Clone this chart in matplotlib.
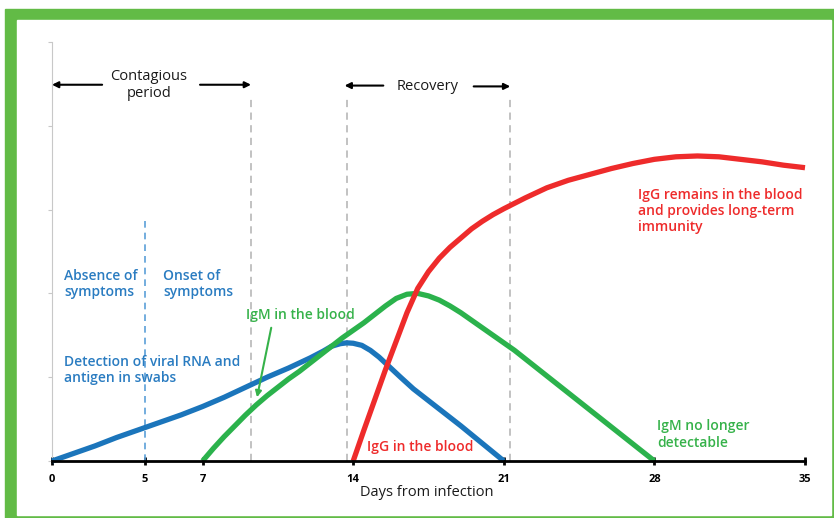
import matplotlib
matplotlib.use('Agg')
import matplotlib.pyplot as plt
from matplotlib.patches import Rectangle

# values (days from infection, relative level)
blue_days = [0, 1, 2, 3, 4, 5, 6, 7, 8, 9, 10, 11, 12, 12.6, 13.0, 13.4, 13.7,
             14.0, 14.4, 14.8, 15.2, 15.7, 16.2, 16.8, 17.3, 18, 19, 20, 21]
blue_level = [0, 0.09, 0.18, 0.28, 0.37, 0.46, 0.55, 0.65, 0.76, 0.88, 1.00,
              1.11, 1.23, 1.31, 1.37, 1.40, 1.41, 1.405, 1.38, 1.32, 1.24,
              1.12, 1.00, 0.86, 0.76, 0.62, 0.42, 0.21, 0]

igm_days = [7, 7.5, 8, 8.5, 9, 9.5, 10, 10.5, 11, 11.5, 12, 12.5, 13, 13.5, 14,
            14.5, 15, 15.5, 16, 16.5, 17, 17.5, 18, 18.5, 19, 19.5, 20, 20.5,
            21, 21.5, 28]
igm_level = [0, 0.15, 0.29, 0.42, 0.55, 0.67, 0.78, 0.88, 0.98, 1.07, 1.17,
             1.27, 1.37, 1.47, 1.56, 1.65, 1.75, 1.85, 1.94, 1.99, 2.0, 1.97,
             1.92, 1.85, 1.77, 1.68, 1.59, 1.50, 1.41, 1.32, 0]

igg_days = [14, 14.5, 15, 15.5, 16, 16.5, 17, 17.5, 18, 18.5, 19, 19.5, 20,
            20.5, 21, 22, 23, 24, 25, 26, 27, 28, 29, 30, 31, 32, 33, 34, 35]
igg_level = [0, 0.37, 0.73, 1.09, 1.43, 1.77, 2.06, 2.26, 2.42, 2.55, 2.66,
             2.77, 2.86, 2.94, 3.01, 3.14, 3.26, 3.35, 3.42, 3.49, 3.55, 3.60,
             3.63, 3.64, 3.63, 3.60, 3.57, 3.53, 3.50]

# the reference draws the "5" marker a little left of day 5
tick_pos = [0, 4.33, 7, 14, 21, 28, 35]
tick_labels = ["0", "5", "7", "14", "21", "28", "35"]

BLUE = "#1b75bb"
BLUE_TXT = "#2a7cc1"
GREEN = "#2bb24c"
GREEN_TXT = "#36b24a"
RED = "#ee2b2b"
FRAME = "#62bb46"

plt.rcParams['font.family'] = ['Open Sans', 'DejaVu Sans']

W, H = 834, 518
fig = plt.figure(figsize=(W / 100, H / 100), dpi=100)

# green frame: thick left/top, thin right/bottom
fig.patches.append(Rectangle((5 / W, 0), 1 - 5 / W, 1 - 9 / H,
                             transform=fig.transFigure, color=FRAME, zorder=-2))
fig.patches.append(Rectangle((17 / W, 3 / H), (831 - 17) / W, (515 - 20) / H,
                             transform=fig.transFigure, color="white", zorder=-1))

ax = fig.add_axes([52 / W, (H - 461) / H, (805 - 52) / W, (461 - 42) / H])
ax.set_facecolor("none")
ax.set_xlim(0, 35)
ax.set_ylim(0, 5)

for s in ["top", "right"]:
    ax.spines[s].set_visible(False)
ax.spines["left"].set_color("#c8c8c8")
ax.spines["left"].set_linewidth(0.8)
ax.spines["bottom"].set_color("black")
ax.spines["bottom"].set_linewidth(2)
ax.spines["bottom"].set_zorder(5)

ax.set_xticks(tick_pos)
ax.set_xticklabels(tick_labels, fontsize=8, fontweight="bold")
ax.tick_params(axis="x", direction="inout", length=6, width=2, pad=6)
ax.set_yticks(range(6))
ax.set_yticklabels([])
ax.tick_params(axis="y", direction="out", length=3, width=0.8, color="#c8c8c8")

# guide lines
ax.plot([4.33, 4.33], [0, 2.92], ls=(0, (4, 3)), color="#5b9fd8", lw=1.2)
for xg in [9.25, 13.7, 21.3]:
    ax.plot([xg, xg], [0, 4.32], ls=(0, (4, 3)), color="#bdbdbd", lw=1.3)

kw = dict(lw=3.8, solid_capstyle="butt", solid_joinstyle="round", clip_on=False)
ax.plot(blue_days, blue_level, color=BLUE, zorder=3, **kw)
ax.plot(igm_days, igm_level, color=GREEN, zorder=3, **kw)
ax.plot(igg_days, igg_level, color=RED, zorder=4, **kw)

arrow = dict(arrowstyle="-|>", color="black", lw=1.5, mutation_scale=9,
             shrinkA=0, shrinkB=0)
ax.annotate("", xy=(0, 4.49), xytext=(2.33, 4.49), arrowprops=arrow,
            annotation_clip=False)
ax.annotate("", xy=(9.25, 4.49), xytext=(6.88, 4.49), arrowprops=arrow)
ax.annotate("", xy=(13.6, 4.48), xytext=(15.4, 4.48), arrowprops=arrow)
ax.annotate("", xy=(21.3, 4.47), xytext=(19.6, 4.47), arrowprops=arrow)

fs = 10
ax.text(4.51, 4.49, "Contagious\nperiod", ha="center", va="center",
        fontsize=10.5, color="#1a1a1a")
ax.text(17.44, 4.47, "Recovery", ha="center", va="center",
        fontsize=10.5, color="#1a1a1a")

ax.text(0.56, 2.11, "Absence of\nsymptoms", ha="left", va="center",
        fontsize=fs, color=BLUE_TXT, fontweight="semibold")
ax.text(5.16, 2.11, "Onset of\nsymptoms", ha="left", va="center",
        fontsize=fs, color=BLUE_TXT, fontweight="semibold")
ax.text(0.56, 1.09, "Detection of viral RNA and\nantigen in swabs", ha="left",
        va="center", fontsize=fs, color=BLUE_TXT, fontweight="semibold")

ax.text(9.02, 1.74, "IgM in the blood", ha="left", va="center",
        fontsize=fs, color=GREEN_TXT, fontweight="semibold")
ax.annotate("", xy=(9.53, 0.76), xytext=(10.19, 1.59),
            arrowprops=dict(arrowstyle="-|>", color=GREEN_TXT, lw=1.5,
                            mutation_scale=9, shrinkA=0, shrinkB=0))
ax.text(28.14, 0.316, "IgM no longer\ndetectable", ha="left", va="center",
        fontsize=fs, color=GREEN_TXT, fontweight="semibold")

ax.text(14.65, 0.167, "IgG in the blood", ha="left", va="center",
        fontsize=fs, color=RED, fontweight="semibold")
ax.text(27.26, 2.98, "IgG remains in the blood\nand provides long-term\nimmunity",
        ha="left", va="center", fontsize=fs, color=RED, fontweight="semibold")

ax.text(17.44, -0.38, "Days from infection", ha="center", va="center",
        fontsize=10.5, color="#1a1a1a", clip_on=False)

fig.savefig("out.png", dpi=100)
